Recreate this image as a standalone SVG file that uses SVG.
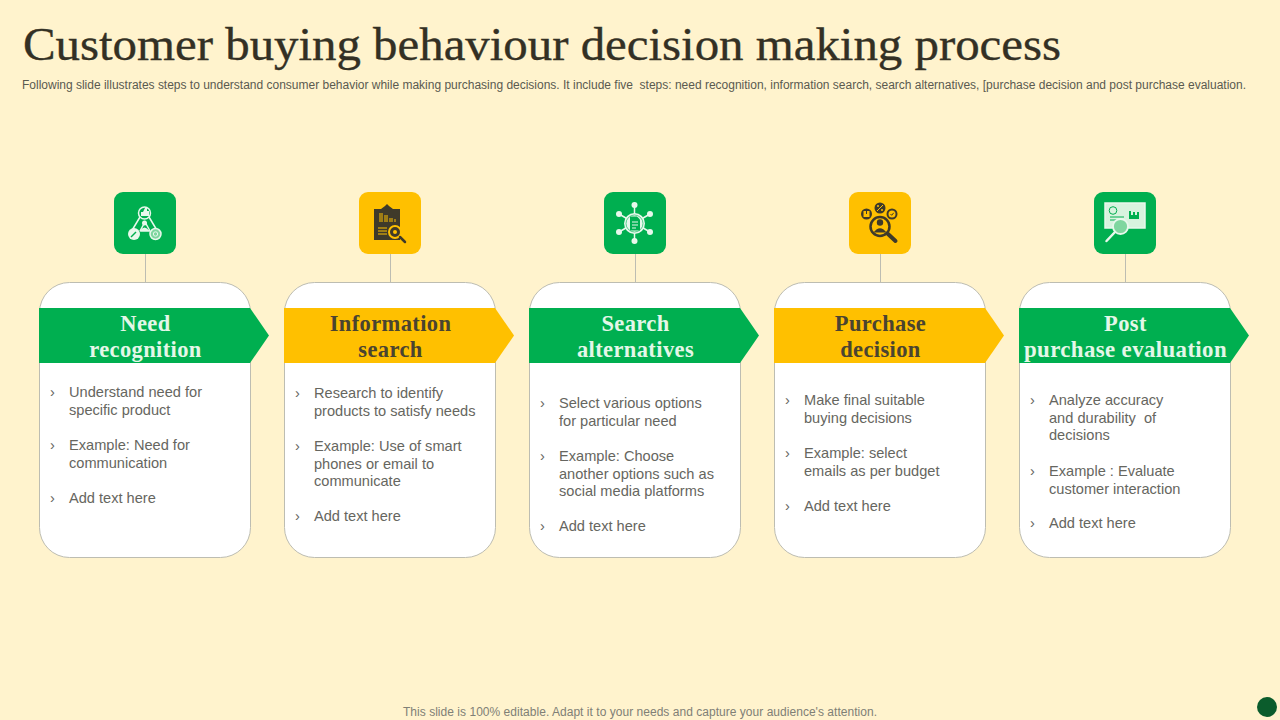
<svg xmlns="http://www.w3.org/2000/svg" width="1280" height="720" viewBox="0 0 1280 720">
<style>
.title{font-family:"Liberation Serif","DejaVu Serif",serif;font-size:46px;fill:#333024;stroke:#333024;stroke-width:0.350px}
.sub{font-family:"Liberation Sans",Arial,sans-serif;font-size:12px;fill:#5a5a50}
.foot{font-family:"Liberation Sans",Arial,sans-serif;font-size:12px;fill:#808076}
.head{font-family:"Liberation Serif","DejaVu Serif",serif;font-size:22.500px;font-weight:bold;text-anchor:middle;letter-spacing:0.380px}
.hw{fill:#e4f7e8}.hd{fill:#4a4430}
.body{font-family:"Liberation Sans",Arial,sans-serif;font-size:14.600px;fill:#666660}
.card{fill:#fff;stroke:#bdbdb2;stroke-width:1}
.g{fill:#00af50}.y{fill:#ffc000}
.conn{stroke:#bdbdb2;stroke-width:1;fill:none}
.iw{fill:#e8f8ec;stroke:none}
.ik{fill:#3f3a2a;stroke:none}
</style>
<rect width="1280" height="720" fill="#fff3cd"/>
<text class="title" x="23" y="60" textLength="1038" lengthAdjust="spacingAndGlyphs">Customer buying behaviour decision making process</text>
<text class="sub" xml:space="preserve" x="22" y="89" textLength="1224" lengthAdjust="spacing">Following slide illustrates steps to understand consumer behavior while making purchasing decisions. It include five  steps: need recognition, information search, search alternatives, [purchase decision and post purchase evaluation.</text>
<g id="connectors">
<path class="conn" d="M145.500 254V283M390.500 254V283M635.500 254V283M880.500 254V283M1125.500 254V283"/>
</g>
<g id="node1">
<rect class="card" x="39.500" y="282.500" width="211" height="275" rx="30"/>
<path class="g" d="M39 308H250L269 335.500L250 363H39Z"/>
<text class="head hw" x="145.500" y="331">Need</text>
<text class="head hw" x="145.500" y="357">recognition</text>
<g class="body">
<text x="50" y="397">›</text><text x="69" y="397">Understand need for</text><text x="69" y="415">specific product</text>
<text x="50" y="450">›</text><text x="69" y="450">Example: Need for</text><text x="69" y="468">communication</text>
<text x="50" y="503">›</text><text x="69" y="503">Add text here</text>
</g>
<rect class="g" x="114" y="192" width="62" height="62" rx="9"/>
<path d="M140 217L131 232M149 217L158 232M140 231H150M140 231L145 222L150 231" fill="none" stroke="#e8f8ec" stroke-width="1.500"/>
<circle cx="144.500" cy="213" r="6" fill="#00af50" stroke="#e8f8ec" stroke-width="1.500"/>
<path class="iw" d="M141 216V212H143L145 208H147V211H149V216Z"/>
<circle class="iw" cx="134" cy="234" r="6"/>
<circle cx="155.500" cy="234" r="5.500" fill="#7fd69f" stroke="#e8f8ec" stroke-width="1.500"/>
<circle cx="155.500" cy="234" r="2.200" fill="none" stroke="#e8f8ec"/>
<circle class="iw" cx="144.500" cy="223" r="2.500"/><path class="iw" d="M139.500 231Q144.500 224 149.500 231Z"/>
<path d="M131 237L136 232" stroke="#00af50" stroke-width="1.500"/>
</g>
<g id="node2">
<rect class="card" x="284.500" y="282.500" width="211" height="275" rx="30"/>
<path class="y" d="M284 308H495L514 335.500L495 363H284Z"/>
<text class="head hd" x="390.500" y="331">Information</text>
<text class="head hd" x="390.500" y="357">search</text>
<g class="body">
<text x="295" y="398">›</text><text x="314" y="398">Research to identify</text><text x="314" y="416">products to satisfy needs</text>
<text x="295" y="451">›</text><text x="314" y="451">Example: Use of smart</text><text x="314" y="469">phones or email to</text><text x="314" y="486">communicate</text>
<text x="295" y="521">›</text><text x="314" y="521">Add text here</text>
</g>
<rect class="y" x="359" y="192" width="62" height="62" rx="9"/>
<rect class="ik" x="374" y="209" width="26" height="31"/>
<path class="ik" d="M381 209L385 206L387 204L389 206L393 209Z"/>
<path d="M380 213V222M382 213V222M385 215V222M387 215V222M390 218V222M392 218V222M395 219V222M378 228H387M378 231H387M378 234H387" stroke="#ffc000" stroke-width="1" fill="none"/>
<circle cx="395" cy="232" r="6" fill="#3f3a2a" stroke="#ffc000" stroke-width="2"/>
<circle cx="395" cy="232" r="2" fill="#ffc000"/>
<path d="M400 237L405 242" fill="none" stroke="#3f3a2a" stroke-width="2.500" stroke-linecap="round"/>
</g>
<g id="node3">
<rect class="card" x="529.500" y="282.500" width="211" height="275" rx="30"/>
<path class="g" d="M529 308H740L759 335.500L740 363H529Z"/>
<text class="head hw" x="635.500" y="331">Search</text>
<text class="head hw" x="635.500" y="357">alternatives</text>
<g class="body">
<text x="540" y="408">›</text><text x="559" y="408">Select various options</text><text x="559" y="426">for particular need</text>
<text x="540" y="461">›</text><text x="559" y="461">Example: Choose</text><text x="559" y="479">another options such as</text><text x="559" y="496">social media platforms</text>
<text x="540" y="531">›</text><text x="559" y="531">Add text here</text>
</g>
<rect class="g" x="604" y="192" width="62" height="62" rx="9"/>
<path d="M634.500 205V241M619 214L650 232M619 232L650 214" fill="none" stroke="#e8f8ec" stroke-width="1.500"/>
<circle cx="634.500" cy="223.500" r="10.500" fill="#e8f8ec"/>
<circle cx="634.500" cy="223.500" r="8.500" fill="#e8f8ec" stroke="#00af50" stroke-width="0.600"/>
<g class="iw"><circle cx="634.500" cy="205" r="3"/><circle cx="634.500" cy="241" r="3"/><circle cx="619" cy="214" r="3"/><circle cx="650" cy="214" r="3"/><circle cx="619" cy="232" r="3"/><circle cx="650" cy="232" r="3"/></g>
<path d="M630 216.500H637L640 219.500V230.500H630Z" fill="#00af50"/>
<path d="M632 222H638M632 225H638M632 228H636" stroke="#e8f8ec" stroke-width="1"/>
</g>
<g id="node4">
<rect class="card" x="774.500" y="282.500" width="211" height="275" rx="30"/>
<path class="y" d="M774 308H985L1004 335.500L985 363H774Z"/>
<text class="head hd" x="880.500" y="331">Purchase</text>
<text class="head hd" x="880.500" y="357">decision</text>
<g class="body">
<text x="785" y="405">›</text><text x="804" y="405">Make final suitable</text><text x="804" y="423">buying decisions</text>
<text x="785" y="458">›</text><text x="804" y="458">Example: select</text><text x="804" y="476">emails as per budget</text>
<text x="785" y="511">›</text><text x="804" y="511">Add text here</text>
</g>
<rect class="y" x="849" y="192" width="62" height="62" rx="9"/>
<circle cx="880" cy="226.500" r="9.500" fill="none" stroke="#3f3a2a" stroke-width="2.500"/>
<circle class="ik" cx="880" cy="222.500" r="3.200"/><path class="ik" d="M873.500 232.500Q880 224 886.500 232.500Z"/>
<path d="M888 234L895.500 241" fill="none" stroke="#3f3a2a" stroke-width="4" stroke-linecap="round"/>
<circle class="ik" cx="880" cy="208" r="5.500"/><path d="M877 211L883 205" stroke="#ffc000"/><circle cx="878" cy="206" r="1" fill="#ffc000"/><circle cx="882" cy="210" r="1" fill="#ffc000"/>
<circle class="ik" cx="866.500" cy="214" r="5.500"/><rect x="863.500" y="211" width="6" height="6" fill="#ffc000"/><path d="M866.500 211V214" stroke="#3f3a2a"/>
<circle class="ik" cx="892" cy="214" r="5.500"/><circle cx="892" cy="214" r="3.500" fill="#ffc000"/><path d="M890.500 214L891.700 215.300L893.700 212.800" fill="none" stroke="#3f3a2a"/>
</g>
<g id="node5">
<rect class="card" x="1019.500" y="282.500" width="211" height="275" rx="30"/>
<path class="g" d="M1019 308H1230L1249 335.500L1230 363H1019Z"/>
<text class="head hw" x="1125.500" y="331">Post</text>
<text class="head hw" x="1125.500" y="357" textLength="203" lengthAdjust="spacingAndGlyphs">purchase evaluation</text>
<g class="body">
<text x="1030" y="405">›</text><text x="1049" y="405">Analyze accuracy</text><text xml:space="preserve" x="1049" y="423">and durability  of</text><text x="1049" y="440">decisions</text>
<text x="1030" y="476">›</text><text x="1049" y="476">Example : Evaluate</text><text x="1049" y="494">customer interaction</text>
<text x="1030" y="528">›</text><text x="1049" y="528">Add text here</text>
</g>
<rect class="g" x="1094" y="192" width="62" height="62" rx="9"/>
<rect x="1105" y="203" width="40" height="25" fill="#d8f3df" stroke="#e8f8ec" stroke-width="1.500"/>
<circle cx="1113" cy="210.500" r="3.800" fill="none" stroke="#00af50"/>
<path d="M1110 217H1124M1110 220H1120" stroke="#00af50"/>
<path d="M1129 219V211H1131V215H1133V212H1135V215H1137V212H1139V219Z" fill="#00af50"/>
<circle cx="1120.500" cy="226.500" r="7.500" fill="#7fd69f" stroke="#e8f8ec" stroke-width="1.800"/>
<path d="M1115 232L1106.500 241" fill="none" stroke="#e8f8ec" stroke-width="2.500" stroke-linecap="round"/>
</g>
<text class="foot" x="403" y="716" textLength="474" lengthAdjust="spacing">This slide is 100% editable. Adapt it to your needs and capture your audience's attention.</text>
<circle cx="1267" cy="707" r="10" fill="#0b5c2c"/>
</svg>
